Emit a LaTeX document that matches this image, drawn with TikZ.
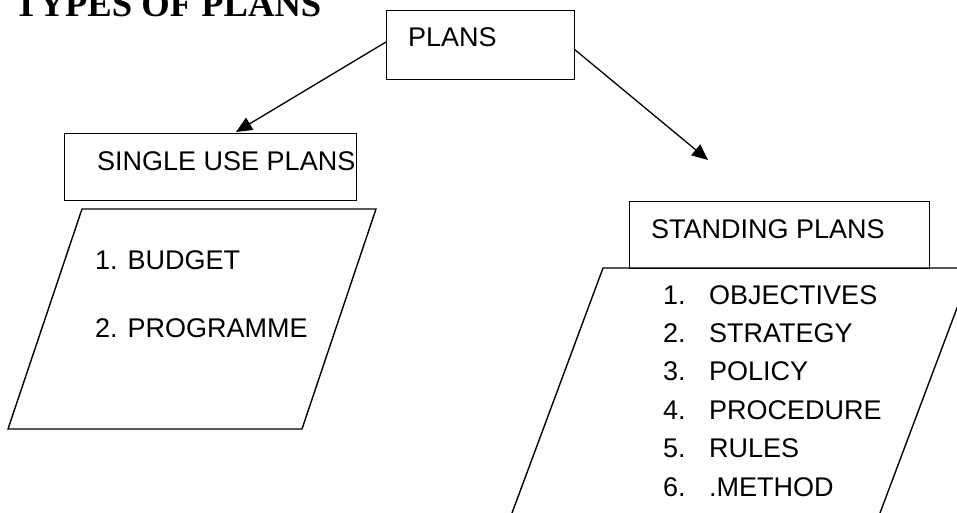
\documentclass[tikz,border=0pt]{standalone}
\usepackage{fontspec}
\setmainfont{Liberation Sans}
\newfontfamily\titlefont{Liberation Serif}
\usetikzlibrary{arrows.meta}
\tikzset{
  boxline/.style={draw=black, line width=1.4pt},
  box/.style={boxline, rectangle, inner sep=0pt, anchor=north west},
  lbl/.style={inner sep=0pt, anchor=base west, font=\fontsize{27}{32}\selectfont},
  conn/.style={line width=1.3pt, -{Triangle[length=16pt,width=14pt]}},
}
\begin{document}
\begin{tikzpicture}[x=1pt,y=-1pt]
\useasboundingbox (0,0) rectangle (957,513);
\clip (0,0) rectangle (957,513);
% title
\node[inner sep=0pt, anchor=base west, font=\titlefont\bfseries\fontsize{36.6}{40}\selectfont] (title) at (14,17) {TYPES OF PLANS};
% boxes
\node[box, minimum width=188pt, minimum height=69pt] (plans) at (386,10) {};
\node[lbl] (plansT) at (408,47) {PLANS};
\node[box, minimum width=292pt, minimum height=67pt] (single) at (64,133) {};
\node[lbl] (singleT) at (97,171) {SINGLE USE PLANS};
% left parallelogram
\draw[boxline] (82,209) -- (376,209) -- (302,429) -- (8,429) -- cycle;
\node[lbl] (b1) at (95,269) {1. BUDGET};
\node[lbl] (b2) at (95,337) {2. PROGRAMME};
% standing plans box
\node[box, minimum width=300pt, minimum height=67pt] (standing) at (629,201) {};
\node[lbl] (standingT) at (651,238) {STANDING PLANS};
% right parallelogram (runs off the page)
\draw[boxline] (512,513) -- (603,268) -- (990,268);
\draw[boxline] (972,268) -- (880,513);
\foreach \n/\t [count=\i from 0] in {1/OBJECTIVES,2/STRATEGY,3/POLICY,4/PROCEDURE,5/RULES,6/.METHOD}{
  \node[lbl] (n\n) at (663,304+38.4*\i) {\n.};
  \node[lbl] (w\n) at (709,304+38.4*\i) {\t};
}
% connectors
\coordinate (lstart) at (386,42);
\coordinate (lend) at (236,132);
\coordinate (rstart) at (574,49);
\coordinate (rend) at (708,160);
\draw[conn] (lstart) -- (lend);
\draw[conn] (rstart) -- (rend);
\end{tikzpicture}
\end{document}
